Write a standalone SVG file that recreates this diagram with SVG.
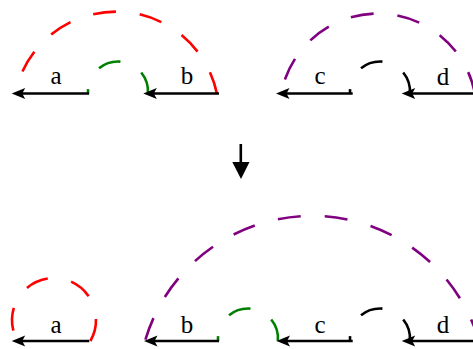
<svg xmlns="http://www.w3.org/2000/svg" xmlns:xlink="http://www.w3.org/1999/xlink" width="473" height="349" viewBox="0 0 473 349">
  <style>
    .arc { fill: none; stroke-width: 2.6; stroke-dasharray: 23 24; stroke-linecap: butt; }
    .red { stroke: #ff0000; }
    .green { stroke: #008000; }
    .purple { stroke: #800080; }
    .black { stroke: #000000; }
    .shaft { stroke: #000000; stroke-width: 2.6; fill: none; }
    .lbl { font-family: "Liberation Serif", "Times New Roman", serif; font-size: 25px; fill: #000; text-anchor: middle; }
  </style>
  <defs>
    <path id="ah" d="M0,0 L13.5,-5.6 L10.5,0 L13.5,5.6 Z" fill="#000"/>
  </defs>
  <rect width="473" height="349" fill="#ffffff"/>

  <g id="connectors">
    <!-- top row arcs -->
    <path class="arc red" d="M217,94 A103.1,103.1 0 0 0 15,94"/>
    <path class="arc green" d="M147.9,94 A30,30 0 1 0 88.1,94"/>
    <path class="arc purple" d="M475,94 A98.7,98.7 0 0 0 281,94"/>
    <path class="arc black" d="M409.9,94 A30,30 0 1 0 350.1,94"/>
    <!-- bottom row arcs -->
    <path class="arc red" d="M90.4,341 A42,42 0 1 0 17.6,341"/>
    <path class="arc green" d="M277.9,341 A30,30 0 1 0 218.1,341"/>
    <path class="arc purple" d="M479,341 A174,174 0 0 0 145,341"/>
    <path class="arc black" d="M409.9,341 A30,30 0 1 0 350.1,341"/>
    <!-- transition arrow -->
    <line class="shaft" x1="240.8" y1="144" x2="240.8" y2="164"/>
    <polygon points="232.3,162 249.5,162 241,179" fill="#000"/>
  </g>

  <g id="top-a">
    <line class="shaft" x1="89" y1="93.5" x2="22" y2="93.5"/>
    <use xlink:href="#ah" x="11.7" y="93.5"/>
    <text class="lbl" x="56" y="83.5">a</text>
  </g>
  <g id="top-b">
    <line class="shaft" x1="219" y1="93.5" x2="153" y2="93.5"/>
    <use xlink:href="#ah" x="143.3" y="93.5"/>
    <text class="lbl" x="187" y="83.5">b</text>
  </g>
  <g id="top-c">
    <line class="shaft" x1="352.7" y1="93.5" x2="286" y2="93.5"/>
    <use xlink:href="#ah" x="276" y="93.5"/>
    <text class="lbl" x="320" y="83.5">c</text>
  </g>
  <g id="top-d">
    <line class="shaft" x1="480" y1="93.5" x2="412" y2="93.5"/>
    <use xlink:href="#ah" x="401.7" y="93.5"/>
    <text class="lbl" x="443" y="85">d</text>
  </g>

  <g id="bottom-a">
    <line class="shaft" x1="89.3" y1="341" x2="22" y2="341"/>
    <use xlink:href="#ah" x="11.7" y="341"/>
    <text class="lbl" x="56" y="332.5">a</text>
  </g>
  <g id="bottom-b">
    <line class="shaft" x1="219" y1="341" x2="154" y2="341"/>
    <use xlink:href="#ah" x="144" y="341"/>
    <text class="lbl" x="187" y="332.5">b</text>
  </g>
  <g id="bottom-c">
    <line class="shaft" x1="352.7" y1="341" x2="286.5" y2="341"/>
    <use xlink:href="#ah" x="276.5" y="341"/>
    <text class="lbl" x="320" y="332.5">c</text>
  </g>
  <g id="bottom-d">
    <line class="shaft" x1="480" y1="341" x2="412" y2="341"/>
    <use xlink:href="#ah" x="401.7" y="341"/>
    <text class="lbl" x="443" y="333">d</text>
  </g>
</svg>
